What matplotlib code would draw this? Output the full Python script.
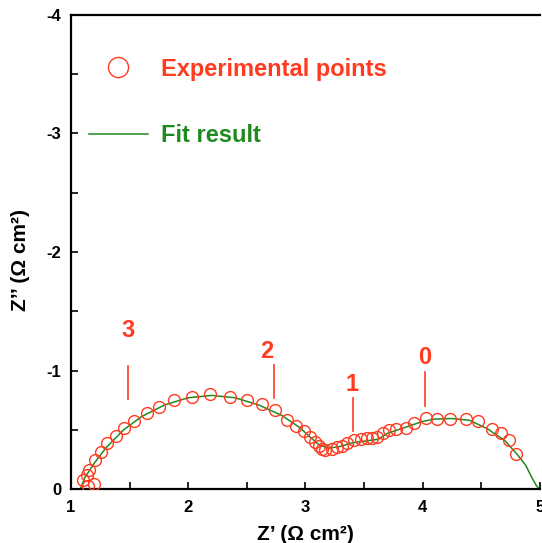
import matplotlib
matplotlib.use("Agg")
import matplotlib.pyplot as plt
import numpy as np

plt.rcParams['font.family'] = ['Liberation Sans', 'DejaVu Sans']
plt.rcParams['axes.unicode_minus'] = False

# experimental points (Z', Z'')
exp_x = [1.148, 1.197, 1.105, 1.139, 1.156, 1.205, 1.256, 1.308, 1.382, 1.455,
         1.538, 1.647, 1.755, 1.880, 2.036, 2.188, 2.353, 2.502, 2.630, 2.744,
         2.843, 2.923, 2.986, 3.043, 3.085, 3.114, 3.143, 3.171, 3.228, 3.271,
         3.314, 3.356, 3.413, 3.470, 3.527, 3.570, 3.613, 3.664, 3.712, 3.769,
         3.855, 3.926, 4.026, 4.125, 4.233, 4.368, 4.476, 4.590, 4.672, 4.738,
         4.795]
exp_y = [-0.025, -0.042, -0.076, -0.119, -0.161, -0.246, -0.314, -0.390, -0.449, -0.517,
         -0.576, -0.644, -0.695, -0.754, -0.780, -0.802, -0.777, -0.748, -0.717, -0.669,
         -0.585, -0.528, -0.486, -0.443, -0.401, -0.359, -0.336, -0.330, -0.336, -0.353,
         -0.367, -0.387, -0.410, -0.421, -0.430, -0.430, -0.443, -0.472, -0.494, -0.506,
         -0.514, -0.557, -0.599, -0.593, -0.593, -0.593, -0.571, -0.506, -0.472, -0.410,
         -0.297]

# fit curve
fit_x = [1.08, 1.12, 1.20, 1.30, 1.45, 1.60, 1.80, 2.00, 2.20, 2.40, 2.60, 2.80,
         2.95, 3.05, 3.12, 3.20, 3.30, 3.40, 3.55, 3.62, 3.70, 3.85, 4.00, 4.10,
         4.25, 4.40, 4.55, 4.70, 4.80, 4.88, 4.93, 4.97, 4.995]
fit_y = [0.0, -0.10, -0.22, -0.35, -0.50, -0.61, -0.71, -0.77, -0.79, -0.77, -0.71, -0.62,
         -0.52, -0.43, -0.37, -0.345, -0.36, -0.39, -0.41, -0.42, -0.47, -0.52, -0.57, -0.59,
         -0.595, -0.58, -0.51, -0.41, -0.30, -0.20, -0.10, -0.03, 0.0]

# frequency markers
mark_labels = ['3', '2', '1', '0']
mark_x = [1.49, 2.73, 3.41, 4.02]
mark_lo = [-0.76, -0.77, -0.49, -0.70]
mark_hi = [-1.04, -1.05, -0.77, -0.99]
label_x = [1.487, 2.673, 3.399, 4.02]
label_y = [-1.335, -1.157, -0.886, -1.106]

red = '#ff3a1f'
green = '#1f8a1f'

fig = plt.figure(figsize=(5.42, 5.43), dpi=100)
ax = fig.add_axes([0.131, 0.0994, 0.865, 0.873])

ax.plot(fit_x, fit_y, color=green, lw=1.1, label='Fit result', zorder=2)
ax.plot(exp_x, exp_y, 'o', mfc='none', mec=red, mew=1.0, ms=8.5,
        label='Experimental points', zorder=3)

for x, lo, hi in zip(mark_x, mark_lo, mark_hi):
    ax.plot([x, x], [lo, hi], color=red, lw=1.2)
for lab, x, y in zip(mark_labels, label_x, label_y):
    ax.text(x, y, lab, color=red, fontsize=17, fontweight='bold',
            ha='center', va='center')

ax.set_xlim(1, 5)
ax.set_ylim(0, -4)
ax.set_xticks([1, 2, 3, 4, 5])
ax.set_yticks([-4, -3, -2, -1, 0])
ax.set_xticks(np.arange(1.5, 5, 1), minor=True)
ax.set_yticks(np.arange(-3.5, 0, 1), minor=True)
ax.tick_params(which='both', direction='in', length=5, width=1.2)
ax.tick_params(axis='y', pad=7)
ax.tick_params(axis='x', pad=8)
for t in ax.get_xticklabels() + ax.get_yticklabels():
    t.set_fontweight('bold')
    t.set_fontsize(12)

for s in ['left', 'bottom', 'top']:
    ax.spines[s].set_linewidth(1.6)
ax.spines['right'].set_visible(False)

ax.set_xlabel('Z\u2019 (\u03a9 cm\u00b2)', fontsize=15, fontweight='bold', labelpad=7)
ax.set_ylabel('Z\u2019\u2019 (\u03a9 cm\u00b2)', fontsize=15, fontweight='bold')
ax.yaxis.set_label_coords(-0.087, 0.483)

h, l = ax.get_legend_handles_labels()
leg = ax.legend([h[1], h[0]], [l[1], l[0]], loc='upper left', bbox_to_anchor=(0.038, 0.91),
                frameon=False, fontsize=17, handlelength=2.5, handletextpad=0.55,
                labelspacing=1.85, borderpad=0, borderaxespad=0, markerscale=1.7)
for txt, c in zip(leg.get_texts(), [red, green]):
    txt.set_color(c)
    txt.set_fontweight('bold')

fig.savefig('out.png', dpi=100)
